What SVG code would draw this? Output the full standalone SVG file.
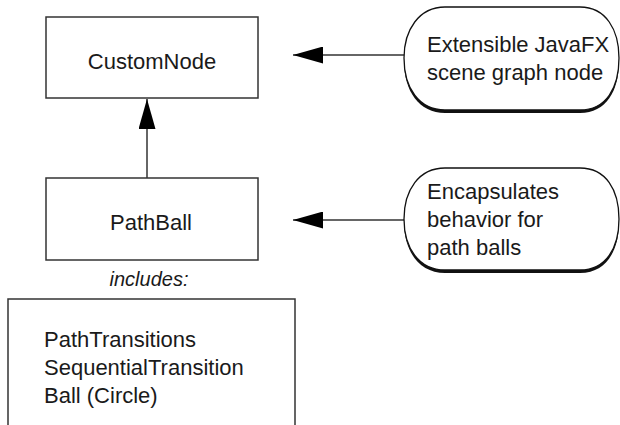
<svg xmlns="http://www.w3.org/2000/svg" width="620" height="425" viewBox="0 0 620 425">
<style>
.box{fill:#fff;stroke:#333;stroke-width:1.5}
.t{font-family:"Liberation Sans",Arial,sans-serif;font-size:22px;fill:#1a1a1a}
.mid{text-anchor:middle}
.it{font-style:italic;font-size:20px}
.conn{stroke:#333;stroke-width:1.5;fill:none}
.callout{fill:#fff;stroke:#111;stroke-width:1.3}
.shadow{fill:#111}
</style>
<defs>
<marker id="arrow" viewBox="0 0 30 17" markerWidth="30" markerHeight="17" refX="30" refY="8.5" orient="auto" markerUnits="userSpaceOnUse">
<path d="M0,0 L30,8.5 L0,17 Z" fill="#000"/>
</marker>
<path id="pill1" d="M445,7 H580 C606,7 619,30 619,58 C619,88 606,110 580,110 H445 C419,110 404,88 404,58 C404,30 419,7 445,7 Z"/>
<path id="pill2" d="M445,168 H580 C606,168 619,190 619,219 C619,248 606,270 580,270 H445 C419,270 404,248 404,219 C404,190 419,168 445,168 Z"/>
</defs>
<g id="connectors">
<line class="conn" x1="147" y1="178" x2="147" y2="99" marker-end="url(#arrow)"/>
<line class="conn" x1="404" y1="55" x2="293" y2="55" marker-end="url(#arrow)"/>
<line class="conn" x1="404" y1="220" x2="293" y2="220" marker-end="url(#arrow)"/>
</g>
<g id="customNode">
<rect class="box" x="46" y="17" width="212" height="81"/>
<text class="t mid" x="152" y="69">CustomNode</text>
</g>
<g id="pathBall">
<rect class="box" x="46" y="178" width="212" height="82"/>
<text class="t mid" x="151" y="230">PathBall</text>
</g>
<g id="includesLabel">
<text class="t mid it" x="149" y="286">includes:</text>
</g>
<g id="includesBox">
<path class="box" d="M8,430 V299 H295 V430"/>
<text class="t" x="44" y="347">PathTransitions</text>
<text class="t" x="44" y="375">SequentialTransition</text>
<text class="t" x="44" y="403">Ball (Circle)</text>
</g>
<g id="note1">
<use href="#pill1" class="shadow" transform="translate(0,3)"/>
<use href="#pill1" class="callout"/>
<text class="t" x="427" y="52">Extensible JavaFX</text>
<text class="t" x="427" y="80">scene graph node</text>
</g>
<g id="note2">
<use href="#pill2" class="shadow" transform="translate(0,3)"/>
<use href="#pill2" class="callout"/>
<text class="t" x="427" y="199">Encapsulates</text>
<text class="t" x="427" y="227">behavior for</text>
<text class="t" x="427" y="255">path balls</text>
</g>
</svg>
